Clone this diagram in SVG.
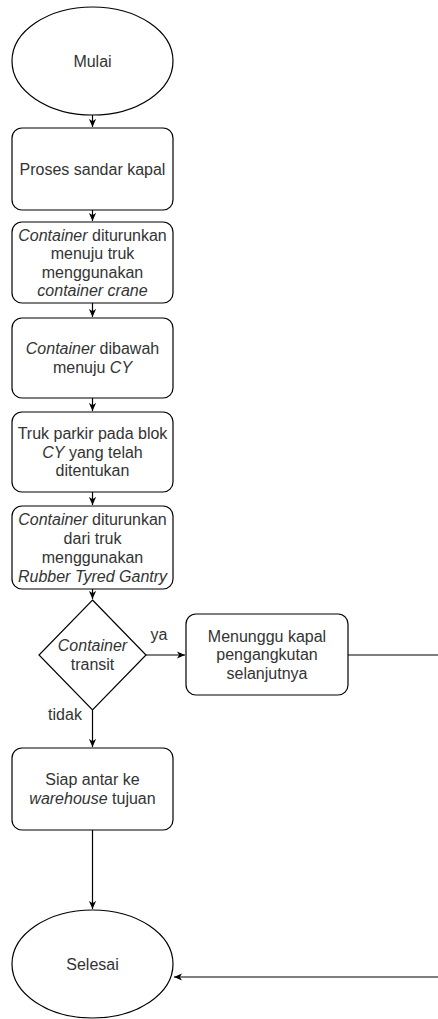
<svg xmlns="http://www.w3.org/2000/svg" width="438" height="1019" viewBox="0 0 438 1019">
<defs>
<style>
.s{fill:#fff;stroke:#000;stroke-width:1.2}
.t{font-family:"Liberation Sans",Arial,sans-serif;font-size:16px;fill:#333;text-anchor:middle}
.i{font-style:italic}
.c{fill:none;stroke:#000;stroke-width:1.2}
</style>
<marker id="arr" viewBox="0 0 10 10" refX="9" refY="5" markerWidth="9" markerHeight="9" orient="auto" markerUnits="userSpaceOnUse">
<path d="M0,1 L9,5 L0,9 L2.5,5 z" fill="#000"/>
</marker>
</defs>
<rect width="438" height="1019" fill="#fff"/>
<g id="connectors">
<path class="c" d="M92.5,115 V127" marker-end="url(#arr)"/>
<path class="c" d="M92.5,210 V221" marker-end="url(#arr)"/>
<path class="c" d="M92.5,303 V317" marker-end="url(#arr)"/>
<path class="c" d="M92.5,398 V411" marker-end="url(#arr)"/>
<path class="c" d="M92.5,492 V505" marker-end="url(#arr)"/>
<path class="c" d="M92.5,589 V599" marker-end="url(#arr)"/>
<path class="c" d="M146,655 H185" marker-end="url(#arr)"/>
<path class="c" d="M92.5,710 V747" marker-end="url(#arr)"/>
<path class="c" d="M92.5,830 V909" marker-end="url(#arr)"/>
<path class="c" d="M348,655 H446 V977 H174" marker-end="url(#arr)"/>
<text class="t" x="159" y="640">ya</text>
<text class="t" x="65" y="720">tidak</text>
</g>
<g id="mulai">
<ellipse class="s" cx="92.5" cy="61" rx="80.5" ry="54"/>
<text class="t" x="92.5" y="67">Mulai</text>
</g>
<g id="sandar">
<rect class="s" x="12" y="128" width="161" height="82" rx="10"/>
<text class="t" x="92.5" y="175">Proses sandar kapal</text>
</g>
<g id="turun1">
<rect class="s" x="12" y="222" width="161" height="81" rx="10"/>
<text class="t" x="92.5" y="240.5"><tspan class="i">Container</tspan> diturunkan</text>
<text class="t" x="92.5" y="259">menuju truk</text>
<text class="t" x="92.5" y="277.5">menggunakan</text>
<text class="t i" x="92.5" y="296">container crane</text>
</g>
<g id="dibawah">
<rect class="s" x="12" y="318" width="161" height="80" rx="10"/>
<text class="t" x="92.5" y="354"><tspan class="i">Container</tspan> dibawah</text>
<text class="t" x="92.5" y="373">menuju <tspan class="i">CY</tspan></text>
</g>
<g id="parkir">
<rect class="s" x="12" y="412" width="161" height="80" rx="10"/>
<text class="t" x="92.5" y="439">Truk parkir pada blok</text>
<text class="t" x="92.5" y="457.5"><tspan class="i">CY</tspan> yang telah</text>
<text class="t" x="92.5" y="476">ditentukan</text>
</g>
<g id="turun2">
<rect class="s" x="12" y="506" width="161" height="83" rx="10"/>
<text class="t" x="92.5" y="524.5"><tspan class="i">Container</tspan> diturunkan</text>
<text class="t" x="92.5" y="543.5">dari truk</text>
<text class="t" x="92.5" y="562.5">menggunakan</text>
<text class="t i" x="92.5" y="581.5">Rubber Tyred Gantry</text>
</g>
<g id="transit">
<polygon class="s" points="92.5,600 146,655 92.5,710 39,655"/>
<text class="t i" x="92.5" y="651">Container</text>
<text class="t" x="92.5" y="670">transit</text>
</g>
<g id="menunggu">
<rect class="s" x="186" y="614" width="162" height="81" rx="10"/>
<text class="t" x="267" y="641.5">Menunggu kapal</text>
<text class="t" x="267" y="660">pengangkutan</text>
<text class="t" x="267" y="678.5">selanjutnya</text>
</g>
<g id="siap">
<rect class="s" x="12" y="748" width="161" height="82" rx="10"/>
<text class="t" x="92.5" y="785">Siap antar ke</text>
<text class="t" x="92.5" y="804"><tspan class="i">warehouse</tspan> tujuan</text>
</g>
<g id="selesai">
<ellipse class="s" cx="92.5" cy="964" rx="80.5" ry="54"/>
<text class="t" x="92.5" y="970">Selesai</text>
</g>
</svg>
